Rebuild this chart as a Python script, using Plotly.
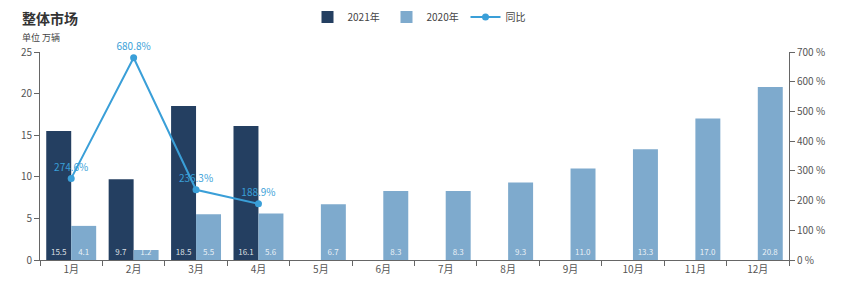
import plotly.graph_objects as go

months = ["1月", "2月", "3月", "4月", "5月", "6月", "7月", "8月", "9月", "10月", "11月", "12月"]
sales_2021 = [15.5, 9.7, 18.5, 16.1]
sales_2020 = [4.1, 1.2, 5.5, 5.6, 6.7, 8.3, 8.3, 9.3, 11.0, 13.3, 17.0, 20.8]
yoy = [274.6, 680.8, 236.3, 188.9]

DARK = "#243f61"
LIGHT = "#7eaacd"
LINE = "#3a9fd8"
FONT = "Noto Sans CJK SC"

fig = go.Figure()
fig.add_trace(go.Bar(
    x=months[:len(sales_2021)], y=sales_2021, name="2021年",
    marker=dict(color=DARK, line=dict(width=0)),
    text=[f"{v:.1f}" for v in sales_2021], textposition="inside",
    insidetextanchor="start", textangle=0,
    textfont=dict(color="rgba(255,255,255,0.85)", size=8, family=FONT),
    offsetgroup="a",
))
fig.add_trace(go.Bar(
    x=months, y=sales_2020, name="2020年",
    marker=dict(color=LIGHT, line=dict(width=0)),
    text=[f"{v:.1f}" for v in sales_2020], textposition="inside",
    insidetextanchor="start", textangle=0,
    textfont=dict(color="rgba(255,255,255,0.85)", size=8, family=FONT),
    offsetgroup="b",
))
fig.add_trace(go.Scatter(
    x=months[:len(yoy)], y=yoy, name="同比", yaxis="y2",
    mode="lines+markers+text", cliponaxis=False,
    line=dict(color=LINE, width=2),
    marker=dict(color=LINE, size=7),
    text=[f"{v:.1f}%" for v in yoy], textposition="top center",
    textfont=dict(color=LINE, size=10, family=FONT),
))

axis_common = dict(
    showgrid=False, zeroline=False, showline=True, linecolor="#666", linewidth=1,
    ticks="outside", ticklen=5, tickcolor="#666",
    tickfont=dict(size=10, color="#555", family=FONT),
)

fig.update_layout(
    width=852, height=302,
    margin=dict(l=40, r=63, t=52, b=42, autoexpand=False),
    paper_bgcolor="white", plot_bgcolor="white",
    font=dict(family=FONT, color="#444"),
    barmode="group", bargap=0.2, bargroupgap=0,
    uniformtext=dict(minsize=8, mode="show"),
    showlegend=True,
    legend=dict(orientation="h", x=0.5, xref="container", xanchor="center",
                y=1 - 17/302, yref="container", yanchor="middle",
                font=dict(size=10, color="#444", family=FONT), itemwidth=30,
                entrywidth=34, entrywidthmode="pixels",
                bgcolor="rgba(0,0,0,0)"),
    xaxis=dict(**axis_common, type="category", categoryorder="array",
               categoryarray=months, tickson="boundaries", range=[-0.5, 11.5]),
    yaxis=dict(**axis_common, range=[0, 25], dtick=5),
    yaxis2=dict(**axis_common, range=[0, 700], dtick=100, ticksuffix=" %",
                overlaying="y", side="right"),
)
fig.add_annotation(text="<b>整体市场</b>", xref="paper", yref="paper",
                   x=-20/749, y=1 + (52-18)/208, xanchor="left", yanchor="middle",
                   showarrow=False, font=dict(size=14, color="#333", family=FONT))
fig.add_annotation(text="单位 万辆", xref="paper", yref="paper",
                   x=-20/749, y=1 + (52-37)/208, xanchor="left", yanchor="middle",
                   showarrow=False, font=dict(size=9, color="#444", family=FONT))

fig.write_html("out.html")
